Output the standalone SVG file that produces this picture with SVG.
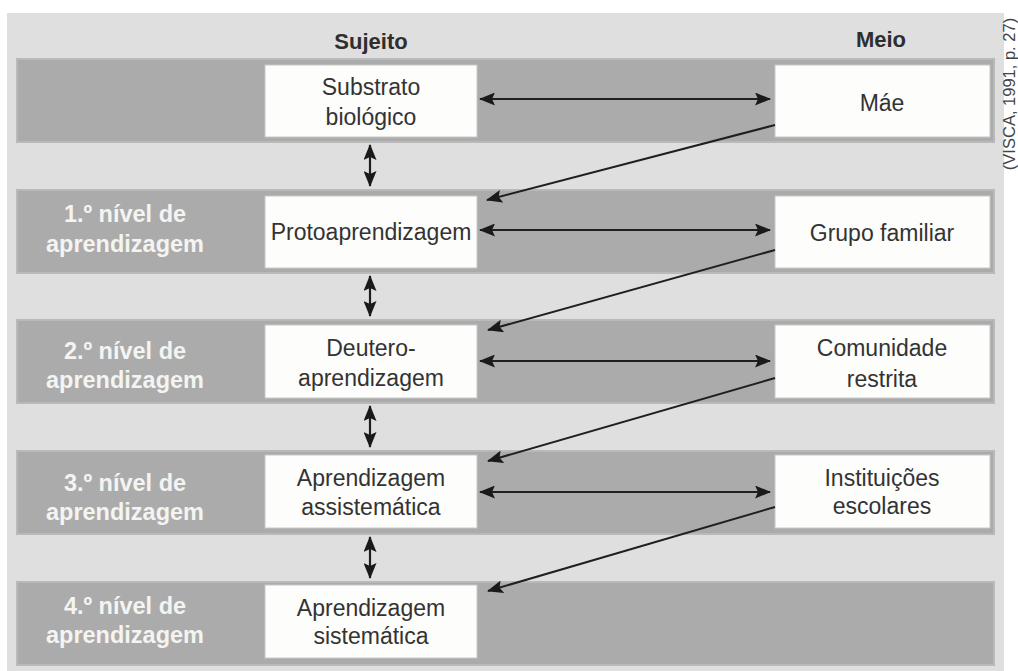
<svg xmlns="http://www.w3.org/2000/svg" width="1018" height="671" viewBox="0 0 1018 671">
<defs>
<marker id="ah" viewBox="0 0 16 13" refX="15" refY="6.5" markerWidth="16" markerHeight="13" markerUnits="userSpaceOnUse" orient="auto-start-reverse">
<path d="M0,0 L16,6.5 L0,13 L3,6.5 Z" fill="#1a1a1a"/>
</marker>
<style>
.panel{fill:#dfdfdf}
.band{fill:#ababab;stroke:#b9b9b9;stroke-width:2}
.box{fill:#fdfdfb;stroke:#c8c8c8;stroke-width:1}
.t{font-family:"Liberation Sans",Arial,sans-serif;font-size:23px;fill:#333333;text-anchor:middle}
.h{font-family:"Liberation Sans",Arial,sans-serif;font-size:22px;font-weight:bold;fill:#2e2e2e;text-anchor:middle}
.lv{font-family:"Liberation Sans",Arial,sans-serif;font-size:23.5px;font-weight:bold;fill:#f4f4f2;text-anchor:middle}
.cite{font-family:"Liberation Sans",Arial,sans-serif;font-size:16.5px;fill:#444;text-anchor:middle}
.c{stroke:#1f1f1f;stroke-width:2.2;fill:none;marker-start:url(#ah);marker-end:url(#ah)}
.d{stroke:#1f1f1f;stroke-width:2;fill:none;marker-end:url(#ah)}
</style>
</defs>
<rect width="1018" height="671" fill="#ffffff"/>
<rect class="panel" x="7" y="13" width="997" height="658"/>
<g id="bands">
<rect class="band" x="17" y="59" width="977" height="83"/>
<rect class="band" x="17" y="190" width="977" height="83"/>
<rect class="band" x="17" y="320" width="977" height="83"/>
<rect class="band" x="17" y="451" width="977" height="83"/>
<rect class="band" x="17" y="582" width="977" height="83"/>
</g>
<g id="headers">
<text class="h" x="371" y="49">Sujeito</text>
<text class="h" x="881" y="47">Meio</text>
</g>
<g id="cite"><text class="cite" transform="translate(1015,94) rotate(-90)">(VISCA, 1991, p. 27)</text></g>
<g id="level1"><text class="lv" x="125" y="222">1.º nível de</text><text class="lv" x="125" y="252">aprendizagem</text></g>
<g id="level2"><text class="lv" x="125" y="359">2.º nível de</text><text class="lv" x="125" y="388">aprendizagem</text></g>
<g id="level3"><text class="lv" x="125" y="491">3.º nível de</text><text class="lv" x="125" y="520">aprendizagem</text></g>
<g id="level4"><text class="lv" x="125" y="614">4.º nível de</text><text class="lv" x="125" y="643">aprendizagem</text></g>
<g id="substrato"><rect class="box" x="265" y="65" width="212" height="72"/><text class="t" x="371" y="95">Substrato</text><text class="t" x="371" y="125">biológico</text></g>
<g id="mae"><rect class="box" x="775" y="65" width="215" height="72"/><text class="t" x="882" y="111">Máe</text></g>
<g id="proto"><rect class="box" x="265" y="196" width="212" height="72"/><text class="t" x="371" y="240">Protoaprendizagem</text></g>
<g id="grupo"><rect class="box" x="775" y="196" width="215" height="72"/><text class="t" x="882" y="241">Grupo familiar</text></g>
<g id="deutero"><rect class="box" x="265" y="325" width="212" height="73"/><text class="t" x="371" y="356">Deutero-</text><text class="t" x="371" y="386">aprendizagem</text></g>
<g id="comunidade"><rect class="box" x="775" y="325" width="215" height="73"/><text class="t" x="882" y="356">Comunidade</text><text class="t" x="882" y="387">restrita</text></g>
<g id="assistematica"><rect class="box" x="265" y="455" width="212" height="73"/><text class="t" x="371" y="486">Aprendizagem</text><text class="t" x="371" y="515">assistemática</text></g>
<g id="instituicoes"><rect class="box" x="775" y="455" width="215" height="73"/><text class="t" x="882" y="486">Instituições</text><text class="t" x="882" y="514">escolares</text></g>
<g id="sistematica"><rect class="box" x="265" y="585" width="212" height="73"/><text class="t" x="371" y="616">Aprendizagem</text><text class="t" x="371" y="644">sistemática</text></g>
<g id="connectors">
<line class="c" x1="480" y1="99" x2="770" y2="99"/>
<line class="c" x1="480" y1="230" x2="770" y2="230"/>
<line class="c" x1="480" y1="361" x2="770" y2="361"/>
<line class="c" x1="480" y1="492" x2="770" y2="492"/>
<line class="c" x1="370" y1="145" x2="370" y2="186"/>
<line class="c" x1="370" y1="276" x2="370" y2="316"/>
<line class="c" x1="370" y1="406" x2="370" y2="447"/>
<line class="c" x1="370" y1="537" x2="370" y2="578"/>
<line class="d" x1="775" y1="125" x2="487" y2="200"/>
<line class="d" x1="775" y1="250" x2="488" y2="330"/>
<line class="d" x1="775" y1="378" x2="488" y2="461"/>
<line class="d" x1="775" y1="507" x2="488" y2="591"/>
</g>
</svg>
